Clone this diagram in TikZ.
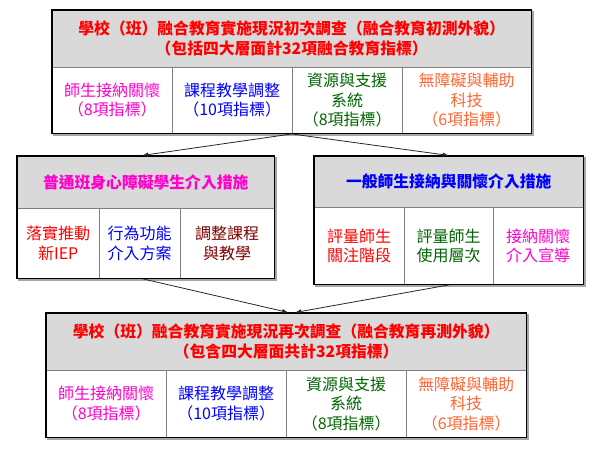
\documentclass[tikz,border=0pt]{standalone}
\usepackage{fontspec}
\setmainfont{Noto Sans CJK TC}
\usepackage{tikz}
\usetikzlibrary{arrows.meta, positioning, fit, backgrounds}
\definecolor{surveyred}{HTML}{FF0000}
\definecolor{surveypink}{HTML}{FF00CC}
\definecolor{surveyblue}{HTML}{0000FF}
\definecolor{surveygreen}{HTML}{006600}
\definecolor{surveyorange}{HTML}{FF6633}
\definecolor{surveybrown}{HTML}{800000}
\definecolor{surveygray}{HTML}{D9D9D9}
\definecolor{surveyline}{HTML}{7F7F7F}
\definecolor{surveyshadow}{HTML}{A6A6A6}

\begin{document}
\begin{tikzpicture}[
    x=1pt, y=-1pt,
    hbox/.style={draw=surveyline, fill=surveygray, anchor=north west, inner sep=0pt, align=center, font=\fontsize{15.8}{20}\selectfont\bfseries},
    cbox/.style={draw=surveyline, fill=white, anchor=north west, inner sep=0pt, align=center, font=\fontsize{16}{19.5}\selectfont},
    tabframe/.style={draw=black, line width=1.1pt, inner sep=0pt},
    arr/.style={-{Latex[length=6pt,width=4.5pt]}, line width=0.8pt, black!85}
  ]
    \useasboundingbox (0,0) rectangle (599,458);
    % first survey
    \node[hbox, text=surveyred, minimum width=479, minimum height=57] (h1) at (52,10) {學校（班）融合教育實施現況初次調查（融合教育初測外貌）\\（包括四大層面計32項融合教育指標）};
    \node[cbox, text=surveypink, minimum width=120, minimum height=66] (a1) at (52,67) {師生接納關懷\\（8項指標）};
    \node[cbox, text=surveyblue, minimum width=120, minimum height=66] (a2) at (172,67) {課程教學調整\\（10項指標）};
    \node[cbox, text=surveygreen, minimum width=110, minimum height=66] (a3) at (292,67) {資源與支援\\系統\\（8項指標）};
    \node[cbox, text=surveyorange, minimum width=129, minimum height=66] (a4) at (402,67) {無障礙與輔助\\科技\\（6項指標）};
    \node[tabframe, fit=(h1) (a1) (a4)] (t1) {};
    % special-needs measures
    \node[hbox, text=surveypink, minimum width=257, minimum height=52] (h2) at (17,156) {普通班身心障礙學生介入措施};
    \node[cbox, text=surveyred, minimum width=82, minimum height=70] (b1) at (17,208) {落實推動\\新IEP};
    \node[cbox, text=surveyblue, minimum width=81, minimum height=70] (b2) at (99,208) {行為功能\\介入方案};
    \node[cbox, text=surveybrown, minimum width=94, minimum height=70] (b3) at (180,208) {調整課程\\與教學};
    \node[tabframe, fit=(h2) (b1) (b3)] (t2) {};
    % acceptance measures
    \node[hbox, text=surveyblue, minimum width=269, minimum height=51] (h3) at (314,156) {一般師生接納與關懷介入措施};
    \node[cbox, text=surveyred, minimum width=90, minimum height=77] (e1) at (314,207) {評量師生\\關注階段};
    \node[cbox, text=surveygreen, minimum width=89, minimum height=77] (e2) at (404,207) {評量師生\\使用層次};
    \node[cbox, text=surveypink, minimum width=90, minimum height=77] (e3) at (493,207) {接納關懷\\介入宣導};
    \node[tabframe, fit=(h3) (e1) (e3)] (t3) {};
    % second survey
    \node[hbox, text=surveyred, minimum width=480, minimum height=57] (h4) at (46,313) {學校（班）融合教育實施現況再次調查（融合教育再測外貌）\\（包含四大層面共計32項指標）};
    \node[cbox, text=surveypink, minimum width=120, minimum height=67] (d1) at (46,370) {師生接納關懷\\（8項指標）};
    \node[cbox, text=surveyblue, minimum width=120, minimum height=67] (d2) at (166,370) {課程教學調整\\（10項指標）};
    \node[cbox, text=surveygreen, minimum width=120, minimum height=67] (d3) at (286,370) {資源與支援\\系統\\（8項指標）};
    \node[cbox, text=surveyorange, minimum width=120, minimum height=67] (d4) at (406,370) {無障礙與輔助\\科技\\（6項指標）};
    \node[tabframe, fit=(h4) (d1) (d4)] (t4) {};
    \begin{scope}[on background layer]
      \foreach \t in {t1,t2,t3,t4}
        \fill[surveyshadow] ([shift={(1.8pt,-1.8pt)}]\t.south west) rectangle ([shift={(1.8pt,-1.8pt)}]\t.north east);
    \end{scope}
    \draw[arr] (t1.south) -- ([xshift=-3.5pt]t2.north);
    \draw[arr] (t1.south) -- (t3.north);
    \draw[arr] ([xshift=-2.5pt]t2.south) -- ([xshift=2pt]t4.north);
    \draw[arr] (t3.south) -- ([xshift=9pt]t4.north);
  \end{tikzpicture}
\end{document}
